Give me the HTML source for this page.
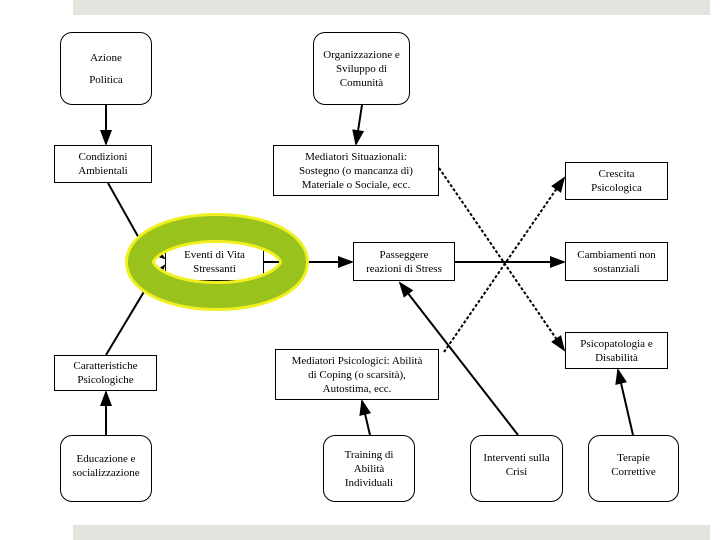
<!DOCTYPE html>
<html><head><meta charset="utf-8"><style>
body{margin:0;width:720px;height:540px;background:#fff;position:relative;overflow:hidden;font-family:"Liberation Serif",serif;font-size:11px;color:#000}
.b{position:absolute;border:1px solid #000;background:#fff;display:flex;align-items:center;justify-content:center;text-align:center;line-height:14px;box-sizing:border-box}
.r{border-radius:12px}
.bar{position:absolute;left:73px;width:637px;height:15px;background:#e4e4de}
svg{position:absolute;left:0;top:0}
</style></head><body>
<div class="bar" style="top:0"></div>
<div class="bar" style="top:525px"></div>
<svg width="720" height="540">
<defs><marker id="a" markerWidth="8" markerHeight="8" refX="7" refY="4" orient="auto"><path d="M0,1 L8,4 L0,7z" fill="#000"/></marker></defs>
<g stroke="#000" stroke-width="2" fill="none" marker-end="url(#a)">
<line x1="106" y1="105" x2="106" y2="144"/>
<line x1="362" y1="105" x2="356" y2="144"/>
<polyline points="108,183 140,240 164,258"/>
<polyline points="106,355 145,290 164,266"/>
<line x1="106" y1="435" x2="106" y2="392"/>
<line x1="264" y1="262" x2="352" y2="262"/>
<line x1="455" y1="262" x2="564" y2="262"/>
<line x1="518" y1="435" x2="400" y2="283"/>
<line x1="370" y1="435" x2="362" y2="401"/>
<line x1="633" y1="435" x2="618" y2="370"/>
</g>
<g stroke="#000" stroke-width="2" fill="none" stroke-dasharray="3,2" marker-end="url(#a)">
<line x1="439" y1="168" x2="564" y2="350"/>
<line x1="444" y1="352" x2="564" y2="178"/>
</g>
</svg>
<div class="b r" style="left:60px;top:32px;width:92px;height:73px;flex-direction:column;line-height:22px">Azione<br>Politica</div>
<div class="b r" style="left:313px;top:32px;width:97px;height:73px">Organizzazione e<br>Sviluppo di<br>Comunità</div>
<div class="b" style="left:54px;top:145px;width:98px;height:38px">Condizioni<br>Ambientali</div>
<div class="b" style="left:273px;top:145px;width:166px;height:51px">Mediatori Situazionali:<br>Sostegno (o mancanza di)<br>Materiale o Sociale, ecc.</div>
<div class="b" style="left:565px;top:162px;width:103px;height:38px">Crescita<br>Psicologica</div>
<div class="b" style="left:165px;top:242px;width:99px;height:39px">Eventi di Vita<br>Stressanti</div>
<div class="b" style="left:353px;top:242px;width:102px;height:39px">Passeggere<br>reazioni di Stress</div>
<div class="b" style="left:565px;top:242px;width:103px;height:39px">Cambiamenti non<br>sostanziali</div>
<div class="b" style="left:565px;top:332px;width:103px;height:37px">Psicopatologia e<br>Disabilità</div>
<div class="b" style="left:54px;top:355px;width:103px;height:36px">Caratteristiche<br>Psicologiche</div>
<div class="b" style="left:275px;top:349px;width:164px;height:51px">Mediatori Psicologici: Abilità<br>di Coping (o scarsità),<br>Autostima, ecc.</div>
<div class="b r" style="left:60px;top:435px;width:92px;height:67px;align-items:flex-start;padding-top:16px">Educazione e<br>socializzazione</div>
<div class="b r" style="left:323px;top:435px;width:92px;height:67px">Training di<br>Abilità<br>Individuali</div>
<div class="b r" style="left:470px;top:435px;width:93px;height:67px;align-items:flex-start;padding-top:15px">Interventi sulla<br>Crisi</div>
<div class="b r" style="left:588px;top:435px;width:91px;height:67px;align-items:flex-start;padding-top:15px">Terapie<br>Correttive</div>
<svg width="720" height="540" style="pointer-events:none">
<ellipse cx="217" cy="262" rx="77" ry="34" fill="none" stroke="#f0f020" stroke-width="30"/>
<ellipse cx="217" cy="262" rx="77" ry="34" fill="none" stroke="#99c21c" stroke-width="24"/>
</svg>
</body></html>
